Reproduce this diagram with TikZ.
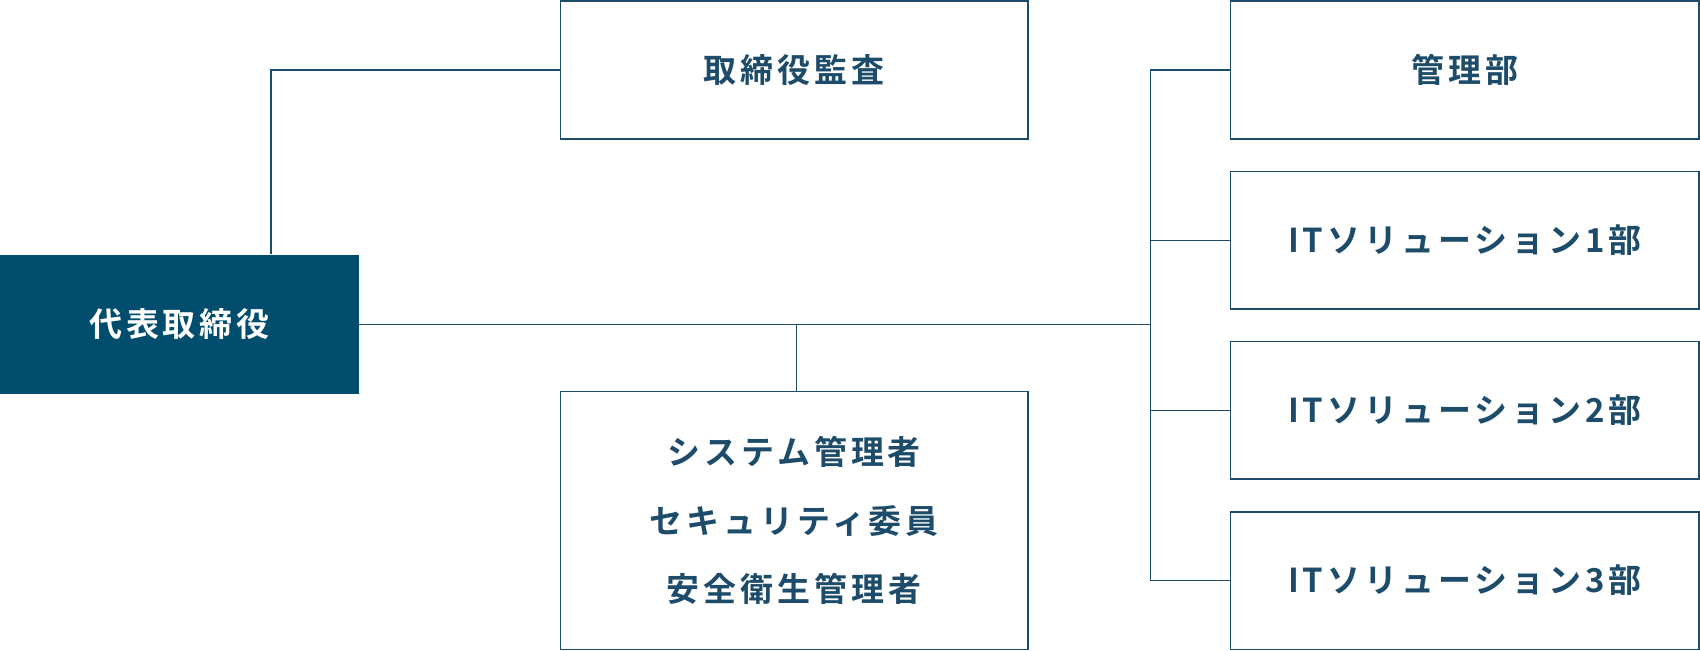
\documentclass[tikz,border=0pt]{standalone}
\usepackage{fontspec}
\setmainfont{Liberation Sans}
\newfontfamily\jpfont[LetterSpace=12]{Noto Sans CJK JP Bold}
\definecolor{navy}{HTML}{004D6E}
\definecolor{ink}{HTML}{1D4B6A}
\usetikzlibrary{positioning}
\tikzset{
  orgbox/.style={draw=ink, line width=0.8pt, fill=white, text=ink, font=\jpfont\fontsize{17.3}{36}\selectfont, align=center, inner sep=0pt},
  headbox/.style={fill=navy, text=white, font=\jpfont\fontsize{17.3}{36}\selectfont, inner sep=0pt},
  link/.style={draw=ink, line width=0.6pt}
}
\begin{document}
\begin{tikzpicture}[x=0.02cm, y=-0.02cm]
\useasboundingbox (0,0) rectangle (1568,600);

% boxes
\node[headbox, minimum width=331*0.02cm, minimum height=128*0.02cm, name=ceo] at (165.5,299) {代表取締役};
\node[orgbox, minimum width=431*0.02cm, minimum height=127*0.02cm, name=audit] at (732.5,64.5) {取締役監査};
\node[orgbox, minimum width=431*0.02cm, minimum height=238*0.02cm, name=staff] at (732.5,480) {システム管理者\\セキュリティ委員\\安全衛生管理者};
\node[orgbox, minimum width=432*0.02cm, minimum height=127*0.02cm, name=mgmt] at (1351,64.5) {管理部};
\node[orgbox, minimum width=432*0.02cm, minimum height=127*0.02cm, name=its1] at (1351,221.5) {ITソリューション1部};
\node[orgbox, minimum width=432*0.02cm, minimum height=127*0.02cm, name=its2] at (1351,378.5) {ITソリューション2部};
\node[orgbox, minimum width=432*0.02cm, minimum height=127*0.02cm, name=its3] at (1351,535.5) {ITソリューション3部};

% connections
\coordinate (hub) at (1061,299);
\coordinate (mid) at (735,299);
\draw[link] (ceo.north -| 250,0) |- (audit.west);
\draw[link] (ceo.east) -- (hub);
\draw[link] (mid) -- (staff.north -| mid);
\draw[link] (mgmt.west -| hub) -- (its3.west -| hub);
\foreach \d in {mgmt,its1,its2,its3}
  \draw[link] (\d.west -| hub) -- (\d.west);
\end{tikzpicture}
\end{document}
